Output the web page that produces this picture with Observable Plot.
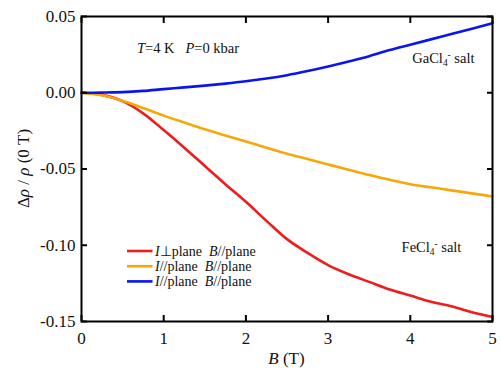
<!DOCTYPE html>
<html><head><meta charset="utf-8">
<script src="https://cdn.jsdelivr.net/npm/d3@7"></script>
<script src="https://cdn.jsdelivr.net/npm/@observablehq/plot@0.6"></script>
<style>body{margin:0;background:#fff}
#chart svg text{font-family:"Liberation Serif",serif}
</style>
</head><body><div id="chart"></div>
<script>
const fieldB = [0,0.25,0.5,0.75,1,1.25,1.5,1.75,2,2.25,2.5,2.75,3,3.25,3.5,3.75,4,4.25,4.5,4.75,5];
const perpSeries = [0,-0.0014,-0.0055,-0.0135,-0.0245,-0.036,-0.048,-0.060,-0.0715,-0.084,-0.096,-0.105,-0.113,-0.119,-0.124,-0.129,-0.133,-0.137,-0.140,-0.144,-0.147];
const parSeries = [0,-0.0017,-0.0052,-0.010,-0.015,-0.0195,-0.024,-0.028,-0.032,-0.036,-0.040,-0.0435,-0.047,-0.0505,-0.054,-0.057,-0.060,-0.062,-0.064,-0.066,-0.068];
const gaSeries = [0,0.0001,0.0004,0.0012,0.0024,0.0035,0.0047,0.006,0.0075,0.0093,0.0115,0.0142,0.0172,0.0205,0.024,0.028,0.0315,0.035,0.0385,0.042,0.0455];
const seriesNames = ["perp","par","ga"];
const seriesColors = ["#ee1c1c","#f7a70a","#0a14ee"];
const xTicks = [0,1,2,3,4,5];
const yTicks = [-0.15,-0.10,-0.05,0.00,0.05];
const yTickLabels = ["-0.15","-0.10","-0.05","0.00","0.05"];

const rows = [];
[perpSeries, parSeries, gaSeries].forEach((s, k) => s.forEach((v, i) => rows.push({B: fieldB[i], v, s: seriesNames[k]})));

const chart = Plot.plot({
  width: 501, height: 369,
  marginLeft: 81, marginRight: 9, marginTop: 16, marginBottom: 48,
  x: {domain: [0, 5], axis: null},
  y: {domain: [-0.15, 0.05], axis: null},
  color: {domain: seriesNames, range: seriesColors},
  marks: [
    Plot.line(rows, {x: "B", y: "v", stroke: "s", z: "s", strokeWidth: 2.6, curve: "catmull-rom"}),
    Plot.text(xTicks, {x: d => d, frameAnchor: "bottom", dy: 22, text: d => String(d), fontSize: 17, fontFamily: "Liberation Serif", fill: "#111"}),
    Plot.text(yTicks, {y: d => d, frameAnchor: "left", dx: -6, textAnchor: "end", text: (d, i) => yTickLabels[i], fontSize: 17, fontFamily: "Liberation Serif", fill: "#111"}),
    Plot.axisX({ticks: xTicks, tickSize: -6, tickFormat: () => "", label: null, strokeWidth: 2}),
    Plot.axisX({anchor: "top", ticks: xTicks, tickSize: -6, tickFormat: () => "", label: null, strokeWidth: 2}),
    Plot.axisY({ticks: yTicks, tickSize: -6, tickFormat: () => "", label: null, strokeWidth: 2}),
    Plot.axisY({anchor: "right", ticks: yTicks, tickSize: -6, tickFormat: () => "", label: null, strokeWidth: 2}),
    Plot.frame({stroke: "#000", strokeWidth: 2})
  ]
});
document.getElementById("chart").appendChild(chart);

const xs = chart.scale("x"), ys = chart.scale("y");
const sx = v => xs.apply(v), sy = v => ys.apply(v);
const svg = d3.select(chart);
function rich(x, y, parts, size, anchor="start") {
  const t = svg.append("text").attr("x", x).attr("y", y).attr("font-size", size).attr("text-anchor", anchor)
    .attr("fill", "#111").attr("font-family", "Liberation Serif, serif");
  parts.forEach(p => {
    const ts = t.append("tspan").text(p.t);
    if (p.i) ts.attr("font-style", "italic");
    if (p.small) ts.attr("font-size", size * 0.65);
    if (p.dy) ts.attr("dy", p.dy);
  });
  return t;
}
// annotations
rich(sx(0.68), sy(0.0255), [{t:"T",i:1},{t:"=4 K\u00a0\u00a0\u00a0"},{t:"P",i:1},{t:"=0 kbar"}], 14.5);
rich(sx(4.03), sy(0.019), [{t:"GaCl"},{t:"4",small:1,dy:3},{t:"-",small:1,dy:-8},{t:"\u00a0salt",dy:5}], 14.5);
rich(sx(3.9), sy(-0.1045), [{t:"FeCl"},{t:"4",small:1,dy:3},{t:"-",small:1,dy:-8},{t:"\u00a0salt",dy:5}], 14.5);
// legend
const legendLabels = [
  [{t:"I",i:1},{t:"\u22a5plane\u00a0\u00a0"},{t:"B",i:1},{t:"//plane"}],
  [{t:"I",i:1},{t:"//plane\u00a0\u00a0"},{t:"B",i:1},{t:"//plane"}],
  [{t:"I",i:1},{t:"//plane\u00a0\u00a0"},{t:"B",i:1},{t:"//plane"}]
];
legendLabels.forEach((lab, k) => {
  const yy = 251 + k * 15.2;
  svg.append("line").attr("x1", sx(0.56)).attr("x2", sx(0.87)).attr("y1", yy).attr("y2", yy)
    .attr("stroke", seriesColors[k]).attr("stroke-width", 2.6);
  rich(sx(0.9), yy + 4.5, lab, 14);
});
// axis labels
rich(sx(2.5), 364, [{t:"B",i:1},{t:"\u00a0(T)"}], 17, "middle");
rich(0, 0, [{t:"\u0394"},{t:"\u03c1",i:1},{t:" / "},{t:"\u03c1",i:1},{t:" (0 T)"}], 17, "middle")
  .attr("transform", `translate(29,${sy(-0.05)}) rotate(-90)`);
</script></body></html>
